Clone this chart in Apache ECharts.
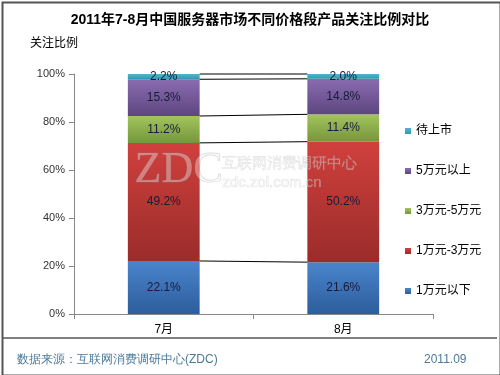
<!DOCTYPE html>
<html>
<head>
<meta charset="utf-8">
<script src="https://cdn.jsdelivr.net/npm/echarts@6/dist/echarts.min.js"></script>
<style>
  html, body { margin: 0; padding: 0; background: #fff; }
  #chart { width: 500px; height: 375px; }
</style>
</head>
<body>
<div id="chart"></div>
<script>
// 数据
var months = ["7月", "8月"];
var seriesNames = ["1万元以下", "1万元-3万元", "3万元-5万元", "5万元以上", "待上市"];
var below1w = [22.1, 21.6];
var w1to3 = [49.2, 50.2];
var w3to5 = [11.2, 11.4];
var above5w = [15.3, 14.8];
var upcoming = [2.2, 2.0];
var yTicks = ["0%", "20%", "40%", "60%", "80%", "100%"];

var seriesData = [below1w, w1to3, w3to5, above5w, upcoming];
var colors = [
  ["#4a85cc", "#2d5d9c"],
  ["#d0403d", "#9a2c2a"],
  ["#a3c45f", "#76963a"],
  ["#8a6cb0", "#5d4680"],
  ["#4fb6d0", "#3596b0"]
];

// 系列线：每段顶部的累计值
var cumLines = [];
var acc = [0, 0];
seriesData.forEach(function (arr) {
  acc = [acc[0] + arr[0], acc[1] + arr[1]];
  cumLines.push([0, acc[0], acc[1]]);
});

var chart = echarts.init(document.getElementById("chart"));

var series = seriesData.map(function (arr, i) {
  return {
    name: seriesNames[i],
    type: "bar",
    stack: "total",
    barWidth: "40%",
    data: arr,
    itemStyle: {
      color: new echarts.graphic.LinearGradient(0, 0, 0, 1, [
        { offset: 0, color: colors[i][0] },
        { offset: 1, color: colors[i][1] }
      ])
    },
    label: {
      show: true,
      position: "inside",
      color: "#1a1a3a",
      fontSize: 12,
      fontFamily: "Liberation Sans, Arial, sans-serif",
      formatter: function (p) {
        return p.value.toFixed(1) + "%";
      }
    },
    z: 2
  };
});

series.push({
  name: "series-lines",
  type: "custom",
  data: cumLines,
  encode: { x: 0, y: 1 },
  silent: true,
  z: 3,
  renderItem: function (params, api) {
    var p1 = api.coord([0, api.value(1)]);
    var p2 = api.coord([1, api.value(2)]);
    var hw = api.size([1, 0])[0] * 0.4 / 2;
    return {
      type: "line",
      shape: { x1: p1[0] + hw, y1: p1[1], x2: p2[0] - hw, y2: p2[1] },
      style: { stroke: "#000", lineWidth: 1 }
    };
  }
});

chart.setOption({
  animation: false,
  textStyle: { fontFamily: "Liberation Sans, Noto Sans CJK SC, sans-serif" },
  title: {
    text: "2011年7-8月中国服务器市场不同价格段产品关注比例对比",
    left: "center",
    top: 8,
    textStyle: {
      fontSize: 14,
      fontWeight: "bold",
      color: "#000",
      fontFamily: "Liberation Sans, Noto Sans CJK SC, sans-serif"
    }
  },
  legend: {
    orient: "vertical",
    left: 400,
    top: 120,
    itemGap: 28,
    itemWidth: 6,
    itemHeight: 6,
    icon: "rect",
    data: seriesNames.slice().reverse(),
    textStyle: { fontSize: 12, color: "#000" }
  },
  grid: {
    left: 74,
    right: 67,
    top: 74,
    bottom: 61
  },
  xAxis: {
    type: "category",
    data: months,
    axisLine: { lineStyle: { color: "#888" } },
    axisTick: { show: true, lineStyle: { color: "#888" } },
    axisLabel: { color: "#000", fontSize: 12, margin: 10 }
  },
  yAxis: {
    type: "value",
    min: 0,
    max: 100,
    interval: 20,
    name: "关注比例",
    nameLocation: "end",
    nameGap: 24,
    nameTextStyle: { color: "#000", fontSize: 12, align: "right", padding: [0, -4, 0, 0] },
    axisLine: { show: true, lineStyle: { color: "#888" } },
    axisTick: { show: true, length: 5, lineStyle: { color: "#888" } },
    splitLine: { show: false },
    axisLabel: {
      color: "#333",
      fontSize: 11,
      margin: 9,
      formatter: function (v) { return yTicks[v / 20]; }
    }
  },
  graphic: [
    {
      type: "rect",
      left: 0, top: 0,
      shape: { width: 498, height: 373 },
      style: { fill: "none", stroke: "#555", lineWidth: 2 },
      z: 10
    },
    {
      type: "line",
      shape: { x1: 3, y1: 338, x2: 497, y2: 338 },
      style: { stroke: "#000", lineWidth: 1 }
    },
    {
      type: "text",
      left: 17, top: 354,
      style: { text: "数据来源：互联网消费调研中心(ZDC)", fill: "#4a7a9a", fontSize: 12 }
    },
    {
      type: "text",
      left: 424, top: 354,
      style: { text: "2011.09", fill: "#4a7a9a", fontSize: 12 }
    },
    {
      type: "text",
      left: 134, top: 148,
      z: 20,
      style: {
        text: "ZDC", fontSize: 44, fontFamily: "Liberation Serif, serif",
        fill: "rgba(255,255,255,0.35)", stroke: "rgba(140,140,140,0.35)", lineWidth: 1
      }
    },
    {
      type: "text",
      left: 222, top: 156,
      z: 20,
      style: {
        text: "互联网消费调研中心", fontSize: 15,
        fill: "rgba(255,255,255,0.35)", stroke: "rgba(140,140,140,0.3)", lineWidth: 0.6
      }
    },
    {
      type: "text",
      left: 222, top: 175,
      z: 20,
      style: {
        text: "zdc.zol.com.cn", fontSize: 15,
        fill: "rgba(255,255,255,0.35)", stroke: "rgba(140,140,140,0.3)", lineWidth: 0.6
      }
    }
  ],
  series: series
});
</script>
</body>
</html>
